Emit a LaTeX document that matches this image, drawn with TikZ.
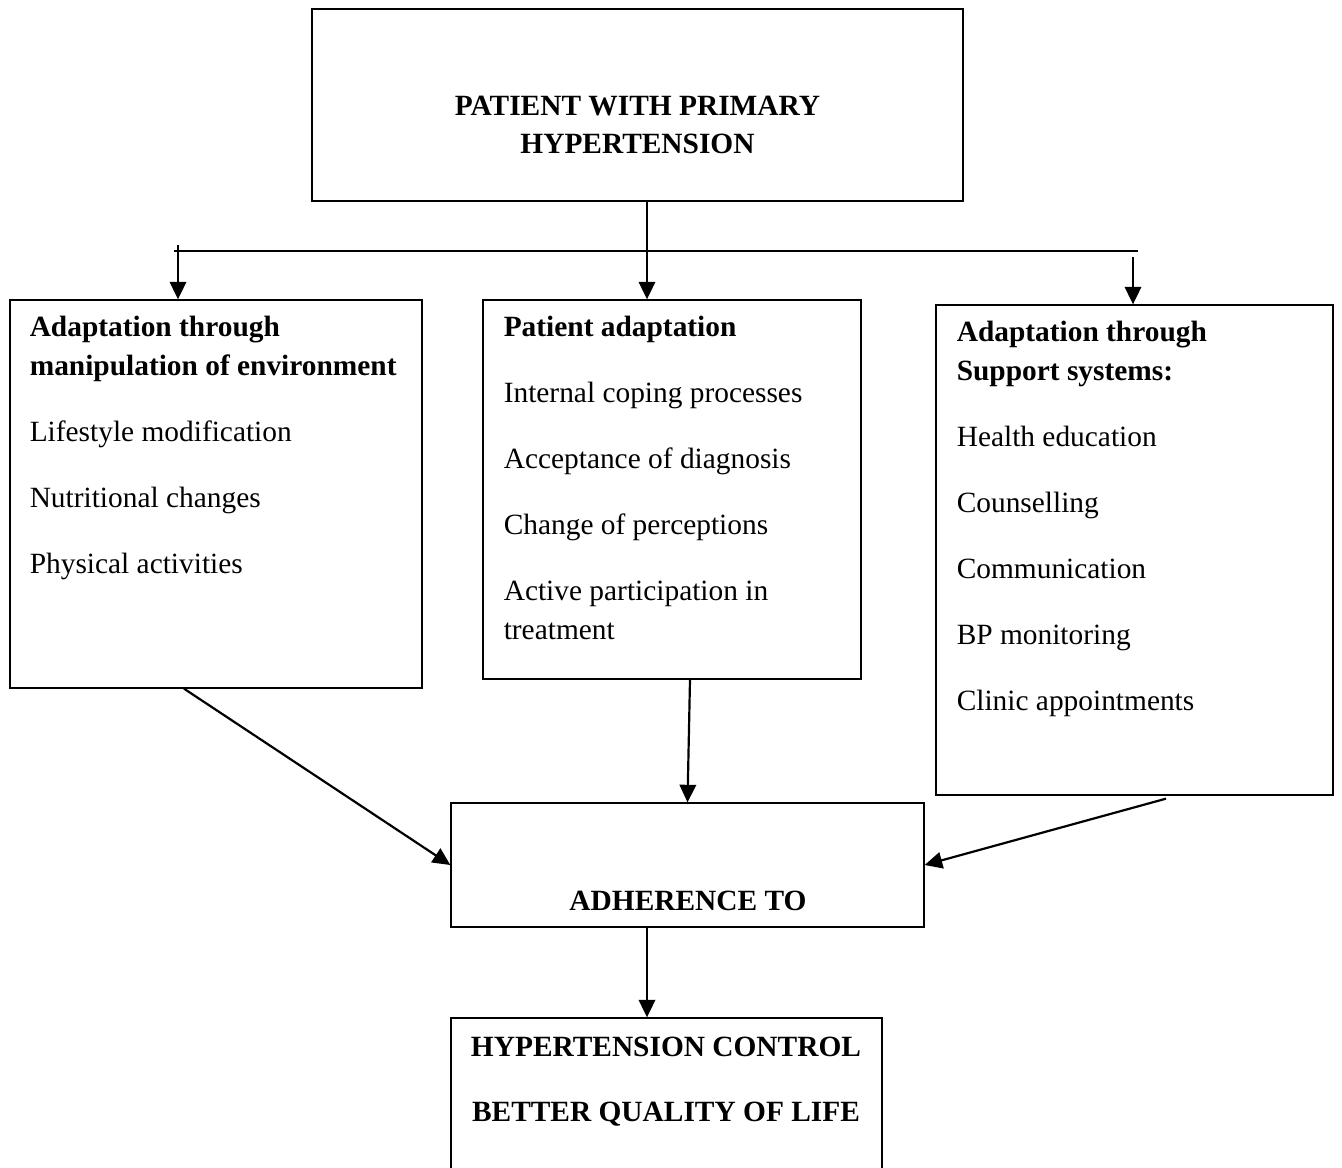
\documentclass[tikz,border=0pt]{standalone}
\usepackage{fontspec}
\setmainfont{Liberation Serif}
\usepackage{tikz}
\usetikzlibrary{arrows.meta}

\begin{document}
\begin{tikzpicture}[x=0.456pt, y=-0.456pt,
          % Stile dei riquadri
          riquadro/.style={
              draw,
              rectangle,
              inner sep=0pt,
              line width=0.6pt
          },
          % Stile del testo nei riquadri
          voci/.style={
              inner sep=0pt,
              align=left,
              font=\fontsize{13.4}{17.8}\selectfont
          },
          titolo/.style={
              inner sep=0pt,
              align=center,
              font=\fontsize{13.4}{17.3}\selectfont\bfseries
          },
          % Stile per le frecce con la punta piena
          freccia/.style={
              -{Triangle[length=8pt, width=7.5pt]},
              line width=1pt
          }
      ]
          \useasboundingbox (0,0) rectangle (1342,1167);

          % 1. Riquadro del paziente
          \node [riquadro, minimum width=651*0.456pt, minimum height=192*0.456pt] (paziente) at (637.5,105) {};
          \node [titolo] (pazientetxt) at (637.5,125) {PATIENT WITH PRIMARY\\HYPERTENSION};

          % 2. Tre riquadri di adattamento
          \node [riquadro, minimum width=412*0.456pt, minimum height=388*0.456pt] (ambiente) at (216,494) {};
          \node [voci, anchor=north west] (ambientetxt) at ([xshift=20*0.456pt, yshift=-16*0.456pt]ambiente.north west)
              {\textbf{Adaptation through}\\\textbf{manipulation of environment}\\[12.3pt]
               Lifestyle modification\\[12.3pt]Nutritional changes\\[12.3pt]Physical activities};

          \node [riquadro, minimum width=378*0.456pt, minimum height=379*0.456pt] (adattamento) at (672,489.5) {};
          \node [voci, anchor=north west] (adattamentotxt) at ([xshift=21*0.456pt, yshift=-16*0.456pt]adattamento.north west)
              {\textbf{Patient adaptation}\\[12.3pt]Internal coping processes\\[12.3pt]Acceptance of diagnosis\\[12.3pt]
               Change of perceptions\\[12.3pt]Active participation in\\treatment};

          \node [riquadro, minimum width=397*0.456pt, minimum height=490*0.456pt] (supporto) at (1134.5,550) {};
          \node [voci, anchor=north west] (supportotxt) at ([xshift=21*0.456pt, yshift=-16*0.456pt]supporto.north west)
              {\textbf{Adaptation through}\\\textbf{Support systems:}\\[12.3pt]Health education\\[12.3pt]Counselling\\[12.3pt]
               Communication\\[12.3pt]BP monitoring\\[12.3pt]Clinic appointments};

          % 3. Riquadro dell'aderenza
          \node [riquadro, minimum width=473*0.456pt, minimum height=124*0.456pt] (aderenza) at (687.5,865) {};
          \node [titolo] (aderenzatxt) at (688,901) {ADHERENCE TO};

          % 4. Riquadro finale (tagliato in basso)
          \node [riquadro, minimum width=431*0.456pt, minimum height=182*0.456pt] (controllo) at (666.5,1109) {};
          \node [titolo, font=\fontsize{13.4}{29.6}\selectfont\bfseries] (controllotxt) at (666,1082)
              {HYPERTENSION CONTROL\\BETTER QUALITY OF LIFE};

          % 5. Linea di distribuzione e frecce verso i riquadri
          \coordinate (barrasx) at (174,251);
          \coordinate (barradx) at (1138,251);
          \coordinate (trattosx) at (178,245);
          \coordinate (trattocx) at (647,251);
          \coordinate (trattodx) at (1133,257);
          \draw [line width=1pt] (barrasx) -- (barradx);
          \draw [freccia] (paziente.south -| trattocx) -- (adattamento.north -| trattocx);
          \draw [freccia] (trattosx) -- (trattosx |- ambiente.north);
          \draw [freccia] (trattodx) -- (trattodx |- supporto.north);

          % 6. Frecce verso l'aderenza
          \draw [freccia] ([xshift=-32*0.456pt]ambiente.south) -- (aderenza.west);
          \draw [freccia] ([xshift=18*0.456pt]adattamento.south) -- (aderenza.north);
          \draw [freccia] ([xshift=31.5*0.456pt, yshift=-3*0.456pt]supporto.south) -- (aderenza.east);

          % 7. Freccia finale
          \draw [freccia] ([xshift=-40.5*0.456pt]aderenza.south) -- ([xshift=-19.5*0.456pt]controllo.north);

      \end{tikzpicture}
\end{document}
